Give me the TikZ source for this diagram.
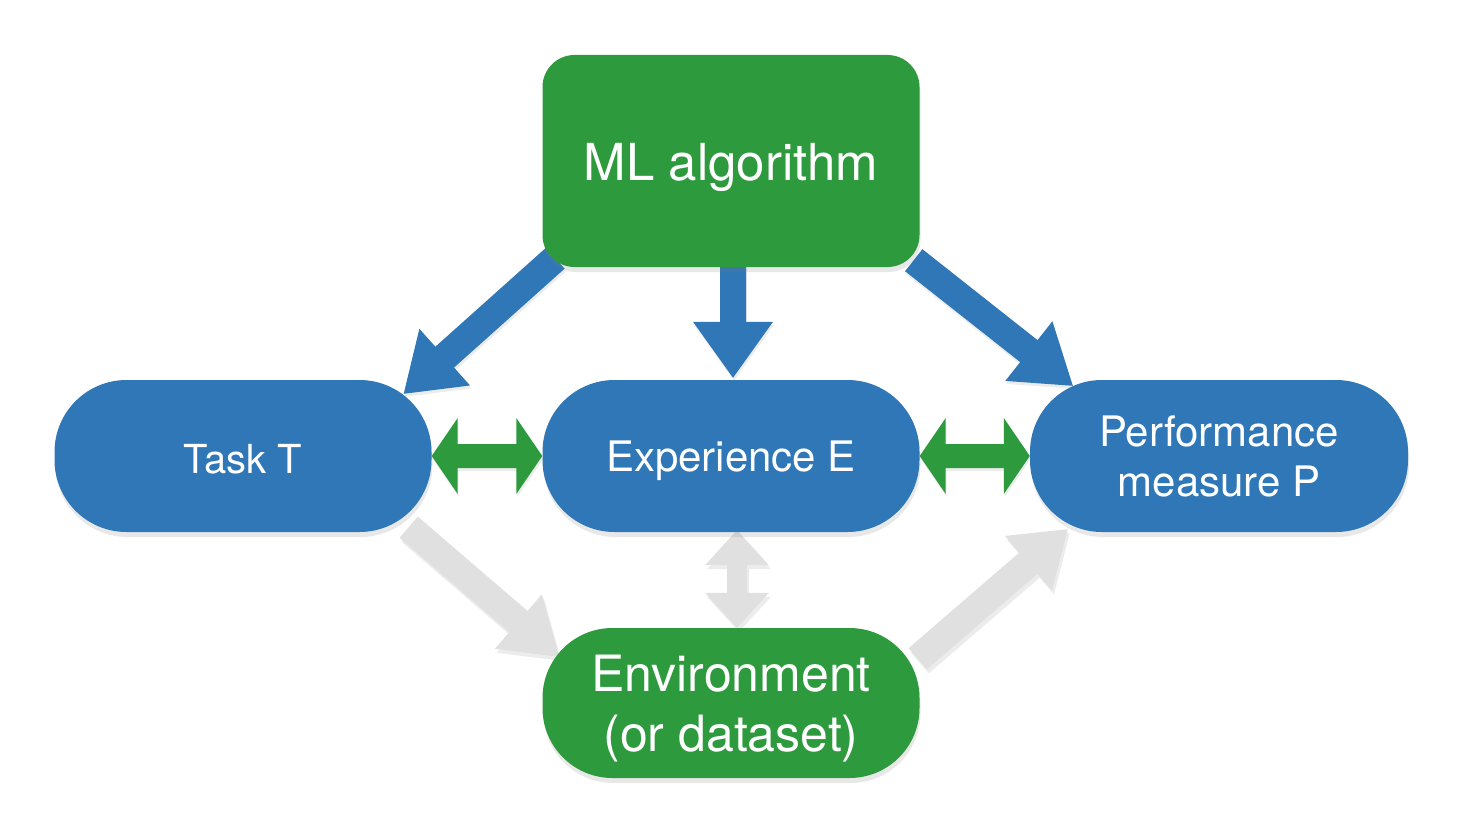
\documentclass[tikz,border=0pt]{standalone}
\usepackage{fontspec}
\setmainfont{TeX Gyre Heros}
\usetikzlibrary{calc,shadows}
\pgfdeclarelayer{bg}
\pgfsetlayers{bg,main}
\definecolor{mlblue}{RGB}{47,119,182}
\definecolor{mlgreen}{RGB}{46,154,62}
\definecolor{mlgray}{RGB}{224,224,224}
\newcommand\onearrow[6]{%
  \coordinate (tmpA) at #2; \coordinate (tmpB) at #3;
  \coordinate (tmpC) at ($(tmpB)!#6!(tmpA)$);
  \fill[#1] ($(tmpA)!#4!90:(tmpB)$) -- ($(tmpC)!#4!90:(tmpB)$) -- ($(tmpC)!#5!90:(tmpB)$)
    -- (tmpB) -- ($(tmpC)!#5!-90:(tmpB)$) -- ($(tmpC)!#4!-90:(tmpB)$)
    -- ($(tmpA)!#4!-90:(tmpB)$) -- cycle;}
\newcommand\twoarrow[6]{%
  \coordinate (tmpA) at #2; \coordinate (tmpB) at #3;
  \coordinate (tmpCA) at ($(tmpA)!#6!(tmpB)$);
  \coordinate (tmpCB) at ($(tmpB)!#6!(tmpA)$);
  \fill[#1] (tmpA) -- ($(tmpCA)!#5!90:(tmpB)$) -- ($(tmpCA)!#4!90:(tmpB)$)
    -- ($(tmpCB)!#4!90:(tmpB)$) -- ($(tmpCB)!#5!90:(tmpB)$) -- (tmpB)
    -- ($(tmpCB)!#5!-90:(tmpB)$) -- ($(tmpCB)!#4!-90:(tmpB)$)
    -- ($(tmpCA)!#4!-90:(tmpB)$) -- ($(tmpCA)!#5!-90:(tmpB)$) -- cycle;}
\tikzset{
  box/.style={inner sep=0pt,
    drop shadow={shadow xshift=1pt, shadow yshift=-5pt, opacity=0.18}},
  lbl/.style={text=white, align=center, inner sep=0pt},
  bluebox/.style={box, fill=mlblue, minimum width=377pt, minimum height=152pt, rounded corners=72pt},
  greenbox/.style={box, fill=mlgreen},
  bluearrow/.style={fill=mlblue, drop shadow={shadow xshift=1pt, shadow yshift=-3pt, opacity=0.15}},
  greenarrow/.style={fill=mlgreen, drop shadow={shadow xshift=1pt, shadow yshift=-3pt, opacity=0.15}},
  grayarrow/.style={fill=mlgray, drop shadow={shadow xshift=2pt, shadow yshift=-4pt, opacity=0.15}}
}
\begin{document}
\begin{tikzpicture}[x=1pt, y=-1pt]
\useasboundingbox (0,0) rectangle (1459,821);
\node[greenbox, minimum width=377pt, minimum height=212pt, rounded corners=32pt,
  label={[lbl, yshift=-6pt, font={\fontsize{51}{60}\selectfont}]center:ML algorithm}] (ml) at (731,161) {};
\node[bluebox,
  label={[lbl, yshift=-3pt, font={\fontsize{40}{48}\selectfont}]center:Task T}] (task) at (243,456) {};
\node[bluebox,
  label={[lbl, yshift=-5pt, font={\fontsize{42}{50}\selectfont}]center:Experience E}] (exp) at (731,456) {};
\node[bluebox, minimum width=378pt,
  label={[lbl, yshift=0pt, font={\fontsize{42}{50}\selectfont}]center:Performance\\ measure P}] (perf) at (1219,456) {};
\node[greenbox, minimum width=377pt, minimum height=150pt, rounded corners=70pt,
  label={[lbl, yshift=-6pt, font={\fontsize{50}{60}\selectfont}]center:Environment\\ (or dataset)}] (env) at (731,703) {};
\coordinate (b1s) at ($(ml.south west)+(13,-9)$);
\coordinate (b1e) at ($(task.north east)+(-28,14)$);
\coordinate (b2s) at ($(ml.south)+(2,-2)$);
\coordinate (b2e) at ($(exp.north)+(2,-2)$);
\coordinate (b3s) at ($(ml.south east)+(-6,-7)$);
\coordinate (b3e) at ($(perf.north west)+(43,6)$);
\coordinate (w1s) at ($(task.south east)+(-23,-5)$);
\coordinate (w1e) at ($(env.north west)+(17,29)$);
\coordinate (w2s) at ($(exp.south)+(6,-2)$);
\coordinate (w2e) at ($(env.north)+(6,0)$);
\coordinate (w3s) at ($(env.north east)+(-2,31)$);
\coordinate (w3e) at ($(perf.south west)+(38,-3)$);
\begin{pgfonlayer}{bg}
\onearrow{bluearrow}{(b1s)}{(b1e)}{14pt}{38pt}{55pt}
\onearrow{bluearrow}{(b2s)}{(b2e)}{13pt}{40pt}{56pt}
\onearrow{bluearrow}{(b3s)}{(b3e)}{14pt}{38pt}{56pt}
\twoarrow{greenarrow}{(task.east)}{(exp.west)}{12pt}{38pt}{26pt}
\twoarrow{greenarrow}{(exp.east)}{(perf.west)}{12pt}{38pt}{26pt}
\onearrow{grayarrow}{(w1s)}{(w1e)}{14pt}{36pt}{54pt}
\twoarrow{grayarrow}{(w2s)}{(w2e)}{10pt}{32pt}{35pt}
\onearrow{grayarrow}{(w3s)}{(w3e)}{14pt}{36pt}{52pt}
\end{pgfonlayer}
\end{tikzpicture}
\end{document}
